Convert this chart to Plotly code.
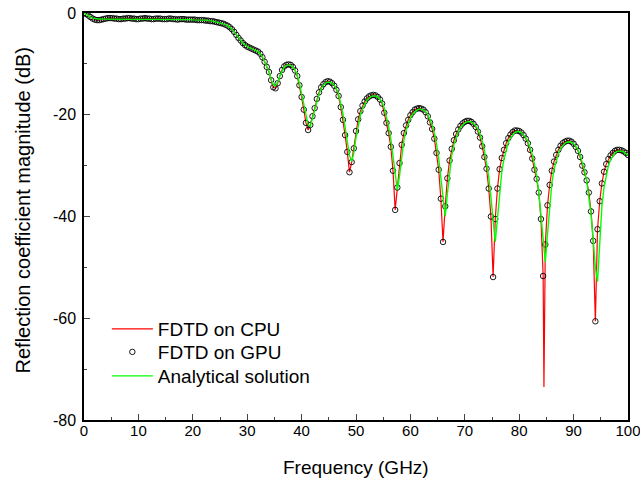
import numpy as np
import plotly.graph_objects as go

# Frequency sampling axis (GHz): 0 to 100 in 0.4 GHz steps
freq_ghz = np.linspace(0, 100, 251)

# FDTD on CPU / GPU (dB)
fdtd_db = [
    0.0, -0.2, -0.5, -0.8, -1.1, -1.3, -1.4, -1.4, -1.3, -1.2,
    -1.1, -1.0, -1.0, -1.0, -1.1, -1.1, -1.2, -1.2, -1.1, -1.1,
    -1.0, -1.0, -1.1, -1.1, -1.2, -1.2, -1.1, -1.1, -1.0, -1.1,
    -1.1, -1.2, -1.2, -1.1, -1.1, -1.1, -1.2, -1.2, -1.2, -1.1,
    -1.1, -1.2, -1.2, -1.3, -1.2, -1.2, -1.2, -1.3, -1.3, -1.3,
    -1.3, -1.3, -1.4, -1.4, -1.4, -1.4, -1.5, -1.5, -1.6, -1.6,
    -1.7, -1.8, -1.9, -2.0, -2.1, -2.3, -2.5, -2.8, -3.2, -3.7,
    -4.3, -4.9, -5.4, -5.9, -6.3, -6.6, -6.8, -7.0, -7.2, -7.4,
    -7.6, -8.0, -8.7, -9.6, -10.6, -11.6, -13.2, -14.6, -14.8, -13.8,
    -12.4, -11.2, -10.5, -10.2, -10.1, -10.2, -10.6, -11.3, -12.4, -14.2,
    -16.5, -19.0, -21.6, -23.0, -22.0, -20.3, -18.7, -16.9, -15.6, -14.6,
    -14.0, -13.6, -13.4, -13.5, -13.8, -14.3, -15.1, -16.3, -18.5, -21.0,
    -24.0, -27.3, -31.3, -29.3, -26.6, -23.2, -20.9, -19.3, -18.2, -17.4,
    -16.8, -16.4, -16.2, -16.1, -16.2, -16.5, -17.0, -17.8, -19.6, -21.6,
    -23.6, -26.3, -31.0, -38.7, -34.3, -29.5, -25.9, -23.6, -22.1, -21.0,
    -20.1, -19.5, -19.0, -18.8, -18.7, -18.8, -19.0, -19.5, -20.3, -21.5,
    -22.8, -24.7, -27.5, -30.8, -36.5, -45.0, -38.0, -32.5, -29.0, -26.7,
    -25.0, -23.8, -22.9, -22.2, -21.7, -21.4, -21.2, -21.2, -21.4, -21.8,
    -22.4, -23.3, -24.5, -26.2, -28.3, -30.6, -34.5, -40.0, -51.9, -40.5,
    -34.5, -30.7, -28.5, -26.9, -25.6, -24.6, -23.9, -23.4, -23.1, -23.1,
    -23.2, -23.5, -24.0, -24.7, -25.6, -26.9, -28.6, -30.8, -32.6, -35.3,
    -40.5, -51.7, -45.5, -37.8, -33.8, -31.0, -29.2, -27.9, -26.9, -26.1,
    -25.6, -25.3, -25.1, -25.1, -25.3, -25.7, -26.3, -27.1, -28.3, -30.0,
    -31.3, -32.9, -35.3, -39.0, -44.8, -60.6, -42.5, -37.0, -33.5, -31.2,
    -29.7, -28.7, -28.0, -27.5, -27.1, -26.9, -26.9, -27.0, -27.2, -27.5,
    -27.9,
]

# Extra CPU sample at the deepest null
cpu_extra_freq = [84.55]
cpu_extra_db = [-73.5]

# Analytical solution (dB)
analytical_db = [
    0.0, -0.3, -0.6, -0.8, -1.0, -1.1, -1.2, -1.2, -1.2, -1.2,
    -1.2, -1.2, -1.2, -1.2, -1.2, -1.2, -1.2, -1.2, -1.2, -1.2,
    -1.2, -1.2, -1.2, -1.2, -1.2, -1.2, -1.2, -1.2, -1.2, -1.2,
    -1.2, -1.2, -1.2, -1.2, -1.2, -1.2, -1.2, -1.2, -1.2, -1.2,
    -1.2, -1.25, -1.25, -1.25, -1.3, -1.3, -1.3, -1.3, -1.3, -1.3,
    -1.35, -1.35, -1.35, -1.35, -1.4, -1.4, -1.4, -1.5, -1.5, -1.6,
    -1.7, -1.8, -1.9, -2.0, -2.1, -2.3, -2.5, -2.8, -3.2, -3.7,
    -4.3, -4.9, -5.4, -5.9, -6.3, -6.6, -6.8, -7.0, -7.2, -7.4,
    -7.6, -8.0, -8.6, -9.5, -10.5, -11.5, -13.0, -14.1, -14.3, -13.6,
    -12.4, -11.3, -10.6, -10.3, -10.2, -10.3, -10.6, -11.2, -12.2, -13.8,
    -15.8, -18.0, -20.4, -22.0, -22.3, -20.8, -19.0, -17.3, -15.9, -14.9,
    -14.2, -13.8, -13.6, -13.6, -13.8, -14.2, -14.9, -15.9, -17.6, -19.8,
    -22.5, -25.5, -28.0, -29.2, -27.5, -24.5, -21.9, -20.1, -18.8, -17.8,
    -17.1, -16.7, -16.4, -16.3, -16.3, -16.5, -16.9, -17.5, -18.7, -20.4,
    -22.4, -24.8, -28.0, -31.8, -34.8, -32.0, -28.0, -25.0, -23.0, -21.6,
    -20.6, -19.9, -19.4, -19.1, -18.9, -18.9, -19.1, -19.4, -20.0, -20.9,
    -22.0, -23.6, -25.7, -28.6, -32.5, -37.0, -40.0, -35.5, -31.0, -28.0,
    -25.9, -24.4, -23.3, -22.5, -22.0, -21.6, -21.4, -21.3, -21.4, -21.7,
    -22.2, -22.9, -23.9, -25.2, -27.0, -29.3, -32.2, -36.2, -41.0, -45.0,
    -40.5, -35.0, -31.2, -28.7, -26.8, -25.4, -24.5, -23.9, -23.5, -23.3,
    -23.3, -23.5, -23.9, -24.5, -25.3, -26.4, -27.8, -29.7, -32.0, -35.2,
    -39.5, -44.5, -49.0, -43.5, -37.5, -33.5, -30.7, -28.9, -27.6, -26.6,
    -26.0, -25.6, -25.4, -25.3, -25.4, -25.7, -26.2, -26.9, -27.9, -29.2,
    -30.9, -33.0, -35.8, -39.5, -44.5, -50.0, -52.8, -44.0, -38.0, -34.2,
    -31.7, -30.0, -28.8, -28.0, -27.5, -27.2, -27.1, -27.1, -27.3, -27.6,
    -28.0,
]

x_ticks = [0, 10, 20, 30, 40, 50, 60, 70, 80, 90, 100]
x_tick_text = ["0", "10", "20", "30", "40", "50", "60", "70", "80", "90", "100"]
y_ticks = [-80, -60, -40, -20, 0]
y_tick_text = ["-80", "-60", "-40", "-20", "0"]

# CPU series = GPU samples plus the extra null sample, sorted by frequency
cpu_pairs = sorted(list(zip(freq_ghz.tolist(), fdtd_db)) + list(zip(cpu_extra_freq, cpu_extra_db)))
cpu_f = [p[0] for p in cpu_pairs]
cpu_v = [p[1] for p in cpu_pairs]

FONT = "Liberation Sans, Arial, sans-serif"

fig = go.Figure()
fig.add_trace(go.Scatter(x=cpu_f, y=cpu_v, mode="lines", name="FDTD on CPU",
                         line=dict(color="#ff0000", width=1.2), legend="legend"))
fig.add_trace(go.Scatter(x=freq_ghz, y=fdtd_db, mode="markers", name="FDTD on GPU",
                         marker=dict(symbol="circle-open", size=5.5, color="#000000",
                                     line=dict(width=0.9, color="#000000")), legend="legend2"))
fig.add_trace(go.Scatter(x=freq_ghz, y=analytical_db, mode="lines", name="Analytical solution",
                         line=dict(color="#00ff00", width=1.4), legend="legend3"))

leg_common = dict(x=0.042, xanchor="left", yanchor="middle", bgcolor="rgba(0,0,0,0)",
                  font=dict(size=19, family=FONT, color="#000000"), itemwidth=41,
                  borderwidth=0)

fig.update_layout(
    width=640, height=486,
    margin=dict(l=84, r=12, t=13, b=66),
    paper_bgcolor="white", plot_bgcolor="white",
    font=dict(family=FONT, color="#000000"),
    showlegend=True,
    legend=dict(y=0.2236, **leg_common),
    legend2=dict(y=0.167, **leg_common),
    legend3=dict(y=0.108, **leg_common),
    xaxis=dict(range=[0, 100], tickvals=x_ticks, ticktext=x_tick_text,
               ticks="inside", ticklen=6, tickwidth=1.2, automargin=False,
               ticklabeloverflow="allow",
               showline=True, linewidth=1.5, linecolor="#000000", mirror=True,
               showgrid=False, zeroline=False, tickfont=dict(size=15),
               ticklabelstandoff=-4,
               minor=dict(dtick=5, ticks="inside", ticklen=3, tickwidth=1.2, showgrid=False)),
    yaxis=dict(range=[-80, 0], tickvals=y_ticks, ticktext=y_tick_text,
               ticks="inside", ticklen=6, tickwidth=1.2, automargin=False,
               ticklabeloverflow="allow",
               showline=True, linewidth=1.5, linecolor="#000000", mirror=True,
               showgrid=False, zeroline=False, tickfont=dict(size=16),
               ticklabelstandoff=3,
               minor=dict(dtick=10, ticks="inside", ticklen=3, tickwidth=1.2, showgrid=False)),
    annotations=[
        dict(text="Frequency (GHz)", xref="paper", yref="paper", x=0.5, y=-0.1155,
             xanchor="center", yanchor="middle", showarrow=False, font=dict(size=19)),
        dict(text="Reflection coefficient magnitude (dB)", xref="paper", yref="paper",
             x=-0.112, y=0.515, xanchor="center", yanchor="middle", textangle=-90,
             showarrow=False, font=dict(size=20)),
    ],
)

# Remove the default 8 px page margin so the figure fills the window exactly
fig.write_html("out.html", config={"displayModeBar": False},
               post_script="document.body.style.margin='0';")
